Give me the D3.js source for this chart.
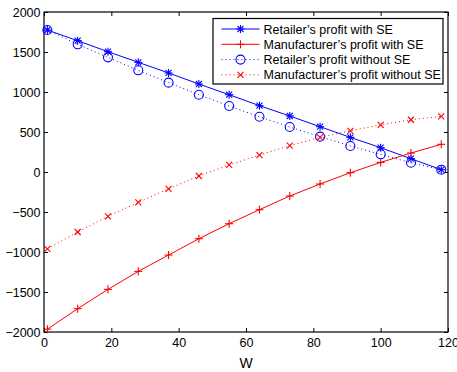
<!DOCTYPE html>
<html>
<head>
<meta charset="utf-8">
<script src="https://cdn.jsdelivr.net/npm/d3@7"></script>
<style>
  body { margin: 0; background: #fff; }
  svg text { font-family: "Liberation Sans", Arial, sans-serif; }
</style>
</head>
<body>
<svg id="chart" width="457" height="372"></svg>
<script>
/* data */
const wValues = [1, 10, 19, 28, 37, 46, 55, 64, 73, 82, 91, 100, 109, 118];
const retailerWithSE = [1775, 1641, 1504, 1371, 1238, 1100, 966, 829, 700, 566, 433, 304, 166, 29];
const manufacturerWithSE = [-1965, -1709, -1467, -1242, -1038, -834, -646, -471, -300, -150, -9, 120, 237, 346];
const retailerWithoutSE = [1775, 1596, 1433, 1271, 1117, 966, 825, 691, 563, 442, 325, 221, 116, 29];
const manufacturerWithoutSE = [-960, -750, -555, -380, -210, -50, 88, 212, 329, 433, 515, 590, 653, 695];
const xTicks = [0, 20, 40, 60, 80, 100, 120];
const yTicks = [-2000, -1500, -1000, -500, 0, 500, 1000, 1500, 2000];

const series = [
  { label: "Retailer\u2019s profit with SE", values: retailerWithSE, color: "#0000ff", dash: null, marker: "star" },
  { label: "Manufacturer\u2019s profit with SE", values: manufacturerWithSE, color: "#ff0000", dash: null, marker: "plus" },
  { label: "Retailer\u2019s profit without SE", values: retailerWithoutSE, color: "#0000ff", dash: "1,3", marker: "circle" },
  { label: "Manufacturer\u2019s profit without SE", values: manufacturerWithoutSE, color: "#ff0000", dash: "1,3", marker: "cross" }
];

const svg = d3.select("#chart");
const plotL = 44, plotR = 448, plotT = 12, plotB = 332;

const x = d3.scaleLinear().domain([0, 120]).range([plotL, plotR]);
const y = d3.scaleLinear().domain([-2000, 2000]).range([plotB, plotT]);

/************** axes (matlab style box, ticks inward) **************/
const tickLen = 4;
svg.append("g").attr("transform", `translate(0,${plotB})`)
  .call(d3.axisBottom(x).tickValues(xTicks).tickSizeInner(-tickLen).tickSizeOuter(0).tickPadding(6))
  .call(g => g.select(".domain").remove());
svg.append("g").attr("transform", `translate(0,${plotT})`)
  .call(d3.axisTop(x).tickValues(xTicks).tickSizeInner(-tickLen).tickSizeOuter(0).tickFormat(""))
  .call(g => g.select(".domain").remove());
svg.append("g").attr("transform", `translate(${plotL},0)`)
  .call(d3.axisLeft(y).tickValues(yTicks).tickSizeInner(-tickLen).tickSizeOuter(0).tickPadding(3.5)
    .tickFormat(d => d < 0 ? "\u2212" + Math.abs(d) : d))
  .call(g => g.select(".domain").remove());
svg.append("g").attr("transform", `translate(${plotR},0)`)
  .call(d3.axisRight(y).tickValues(yTicks).tickSizeInner(-tickLen).tickSizeOuter(0).tickFormat(""))
  .call(g => g.select(".domain").remove());

svg.selectAll(".tick text").attr("font-size", 12.5).attr("fill", "#000")
  .style("font-family", "'Liberation Sans', Arial, sans-serif");
svg.selectAll(".tick line").attr("stroke", "#000");

svg.append("rect")
  .attr("x", plotL).attr("y", plotT).attr("width", plotR - plotL).attr("height", plotB - plotT)
  .attr("fill", "none").attr("stroke", "#000").attr("stroke-width", 1.2);

svg.append("text")
  .attr("x", 246).attr("y", 368).attr("text-anchor", "middle")
  .attr("font-size", 14).text("W");

/************** markers **************/
function drawMarker(g, type, color, cx, cy) {
  const s = 4;
  if (type === "circle") {
    g.append("circle").attr("cx", cx).attr("cy", cy).attr("r", 4.5)
      .attr("fill", "none").attr("stroke", color).attr("stroke-width", 1.1);
    return;
  }
  let segs = [];
  if (type === "plus" || type === "star") segs.push([-s, 0, s, 0], [0, -s, 0, s]);
  if (type === "cross") segs.push([-3, -3, 3, 3], [-3, 3, 3, -3]);
  if (type === "star") segs.push([-3, -3, 3, 3], [-3, 3, 3, -3]);
  segs.forEach(p => g.append("line")
    .attr("x1", cx + p[0]).attr("y1", cy + p[1]).attr("x2", cx + p[2]).attr("y2", cy + p[3])
    .attr("stroke", color).attr("stroke-width", 1.1));
}

const line = d3.line().x(d => x(d[0])).y(d => y(d[1]));
const plot = svg.append("g");

series.forEach(s => {
  const pts = wValues.map((w, i) => [w, s.values[i]]);
  plot.append("path").datum(pts)
    .attr("d", line).attr("fill", "none")
    .attr("stroke", s.color).attr("stroke-width", 1)
    .attr("stroke-dasharray", s.dash);
  const mg = plot.append("g");
  pts.forEach(p => drawMarker(mg, s.marker, s.color, x(p[0]), y(p[1])));
});

/************** legend **************/
const lg = svg.append("g");
lg.append("rect").attr("x", 213).attr("y", 18.5).attr("width", 230).attr("height", 65.5)
  .attr("fill", "#fff").attr("stroke", "#000").attr("stroke-width", 1.2);
series.forEach((s, i) => {
  const ly = 29 + i * 15.3;
  lg.append("line").attr("x1", 221.5).attr("x2", 259.5).attr("y1", ly).attr("y2", ly)
    .attr("stroke", s.color).attr("stroke-width", 1).attr("stroke-dasharray", s.dash);
  drawMarker(lg, s.marker, s.color, 240.5, ly);
  lg.append("text").attr("x", 263.5).attr("y", ly + 4.5)
    .attr("font-size", 12.5).text(s.label);
});
</script>
</body>
</html>
